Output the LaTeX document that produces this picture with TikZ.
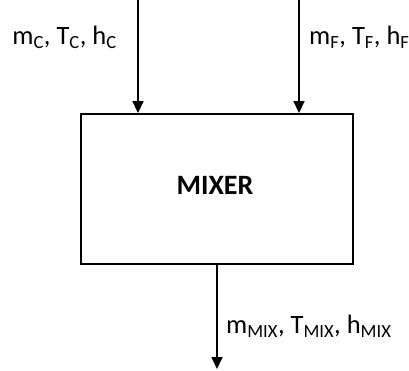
\documentclass[tikz,border=0pt]{standalone}
\usepackage{fontspec}
\setmainfont{Carlito}
\usetikzlibrary{arrows.meta}
\begin{document}
\begin{tikzpicture}[x=1pt,y=1pt,
  flow/.style={line width=1.7pt,-{Triangle[length=12pt,width=11pt]}},
  lbl/.style={font=\fontsize{26.5}{30}\selectfont, inner sep=0pt},
  boxst/.style={draw, line width=1.9pt, minimum width=272pt, minimum height=150pt, inner sep=0pt}]
\useasboundingbox (0,0) rectangle (409,370);
\node[boxst] (mix) at (217,181) {};
\node[font=\fontsize{28}{30}\selectfont\bfseries] (t) at (215,185) {MIXER};
\coordinate (c0) at (138,370);
\coordinate (f0) at (299,370);
\coordinate (o1) at (217,1);
\draw[flow] (c0) -- (c0 |- mix.north);
\draw[flow] (f0) -- (f0 |- mix.north);
\draw[flow] (o1 |- mix.south) -- (o1);
\node[lbl, anchor=east] (lc) at (117,333) {m\textsubscript{C}, T\textsubscript{C}, h\textsubscript{C}};
\node[lbl, anchor=west] (lf) at (309,333) {m\textsubscript{F}, T\textsubscript{F}, h\textsubscript{F}};
\node[lbl, anchor=west] (lm) at (226,44) {m\textsubscript{MIX}, T\textsubscript{MIX}, h\textsubscript{MIX}};
\end{tikzpicture}
\end{document}
